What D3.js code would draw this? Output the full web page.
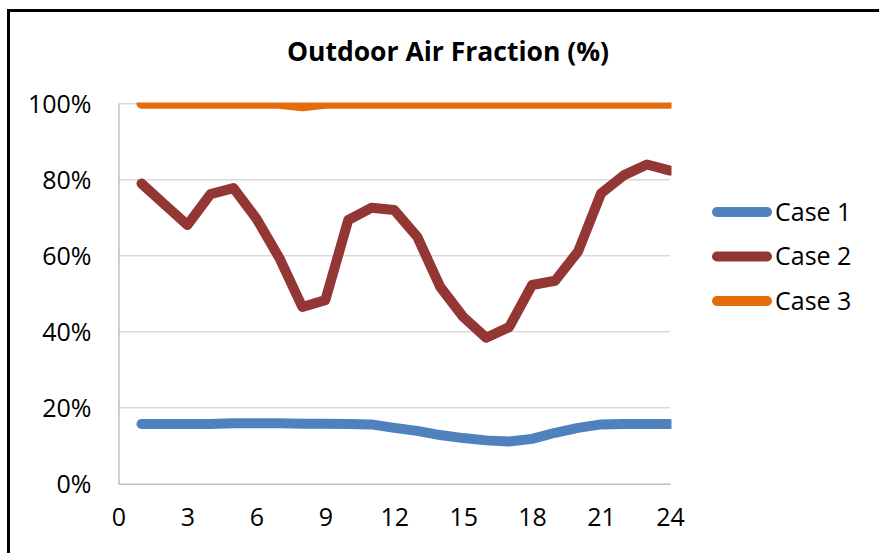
<!DOCTYPE html>
<html>
<head>
<meta charset="utf-8">
<script src="https://cdn.jsdelivr.net/npm/d3@7"></script>
<style>
  html, body { margin: 0; padding: 0; background: #fff; }
  svg { display: block; }
  text { font-family: "Open Sans", "Noto Sans", sans-serif; fill: #000; }
</style>
</head>
<body>
<svg id="chart" width="879" height="553"></svg>
<script>
// Hourly outdoor air fraction (%) for three cases
const hours = d3.range(1, 25);
const case1 = [15.7, 15.7, 15.7, 15.7, 15.9, 15.9, 15.9, 15.8, 15.8, 15.7, 15.6, 14.7,
               13.9, 12.8, 12.0, 11.4, 11.1, 11.8, 13.4, 14.7, 15.6, 15.7, 15.7, 15.7];
const case2 = [79.0, 73.5, 68.1, 76.2, 77.8, 69.8, 59.4, 46.5, 48.3, 69.4, 72.6, 72.0,
               65.0, 51.8, 43.9, 38.4, 41.2, 52.3, 53.4, 61.1, 76.4, 81.2, 84.0, 82.4];
const case3 = [100, 100, 100, 100, 100, 100, 100, 99.3, 100, 100, 100, 100,
               100, 100, 100, 100, 100, 100, 100, 100, 100, 100, 100, 100];
const seriesNames = ["Case 1", "Case 2", "Case 3"];
const seriesColors = ["#4f81bd", "#943634", "#e46c0a"];
const xTicks = [0, 3, 6, 9, 12, 15, 18, 21, 24];
const yTicks = [0, 20, 40, 60, 80, 100];

const svg = d3.select("#chart");

// outer chart frame
svg.append("rect")
  .attr("x", 8.5).attr("y", 10.5)
  .attr("width", 900).attr("height", 560)
  .attr("fill", "none").attr("stroke", "#000").attr("stroke-width", 3);

const plot = { left: 118.5, right: 670, top: 103.7, bottom: 483.7 };

const x = d3.scaleLinear().domain([0, 24]).range([plot.left, plot.right]);
const y = d3.scaleLinear().domain([0, 100]).range([plot.bottom, plot.top]);

// title
svg.append("text")
  .attr("x", 448).attr("y", 61)
  .attr("text-anchor", "middle")
  .style("font-weight", "bold")
  .style("font-size", "26.5px")
  .text("Outdoor Air Fraction (%)");

// horizontal gridlines
svg.append("g")
  .selectAll("line")
  .data(yTicks.filter(d => d > 0))
  .join("line")
  .attr("x1", plot.left).attr("x2", plot.right)
  .attr("y1", d => y(d)).attr("y2", d => y(d))
  .attr("stroke", "#d9d9d9").attr("stroke-width", 1.5);

// y axis
const yAxis = d3.axisLeft(y).tickValues(yTicks).tickSize(0).tickPadding(27)
  .tickFormat(d => d + "%");
const gy = svg.append("g").attr("transform", `translate(${plot.left},0)`).call(yAxis);
gy.select(".domain").attr("stroke", "#bfbfbf").attr("stroke-width", 1.5);
gy.selectAll("text").style("font-size", "25px").attr("dy", "0.35em");

// x axis
const xAxis = d3.axisBottom(x).tickValues(xTicks).tickSize(0).tickPadding(25);
const gx = svg.append("g").attr("transform", `translate(0,${plot.bottom})`).call(xAxis);
gx.select(".domain").attr("stroke", "#bfbfbf").attr("stroke-width", 1.5);
gx.selectAll("text").style("font-size", "25px");

// series lines, clipped to the plot area
svg.append("clipPath").attr("id", "plot-clip")
  .append("rect")
  .attr("x", plot.left).attr("y", plot.top - 1.2)
  .attr("width", plot.right - plot.left + 1.5)
  .attr("height", plot.bottom - plot.top + 10);

const line = d3.line().x((d, i) => x(hours[i])).y(d => y(d));
const allSeries = [case1, case2, case3];

svg.append("g").attr("clip-path", "url(#plot-clip)")
  .selectAll("path")
  .data(allSeries)
  .join("path")
  .attr("d", d => line(d))
  .attr("fill", "none")
  .attr("stroke", (d, i) => seriesColors[i])
  .attr("stroke-width", 10)
  .attr("stroke-linecap", "round")
  .attr("stroke-linejoin", "round");

// legend
const legendY = d3.scalePoint().domain(seriesNames).range([212, 301]);
const legend = svg.append("g")
  .selectAll("g")
  .data(seriesNames)
  .join("g")
  .attr("transform", d => `translate(0,${legendY(d)})`);
legend.append("line")
  .attr("x1", 717).attr("x2", 767)
  .attr("stroke", (d, i) => seriesColors[i])
  .attr("stroke-width", 10)
  .attr("stroke-linecap", "round");
legend.append("text")
  .attr("x", 775).attr("dy", "0.35em")
  .style("font-size", "25px")
  .text(d => d);
</script>
</body>
</html>
